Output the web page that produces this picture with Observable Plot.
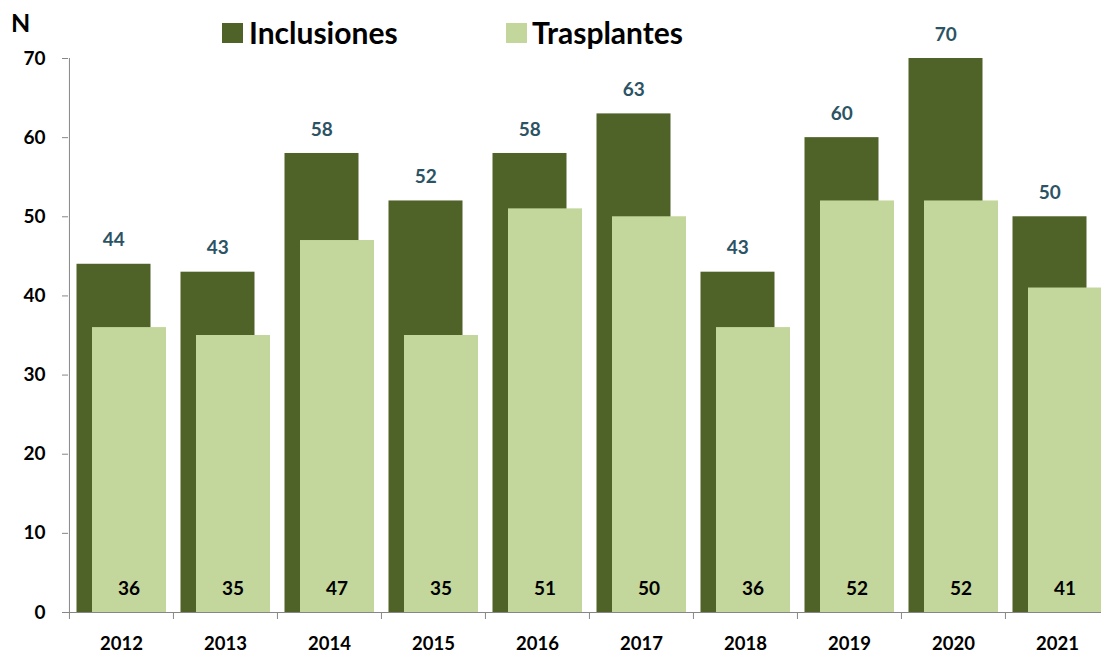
<!DOCTYPE html>
<html>
<head>
<meta charset="utf-8">
<script src="https://cdn.jsdelivr.net/npm/d3@7"></script>
<script src="https://cdn.jsdelivr.net/npm/@observablehq/plot@0.6"></script>
<style>
  html, body { margin: 0; padding: 0; background: #fff; overflow: hidden; }
  #wrap { position: relative; width: 1101px; height: 657px; font-family: Lato, "Open Sans", sans-serif; }
  #wrap svg { position: absolute; left: 0; top: 0; }
  .lab { position: absolute; font-weight: 700; color: #000; white-space: nowrap; line-height: 1; }
  .sw { position: absolute; width: 21px; height: 20px; }
</style>
</head>
<body>
<div id="wrap">
  <div class="lab" style="left:11px; top:10px; font-size:25px;">N</div>
  <div class="sw" style="left:222px; top:23px; background:#4F6228;"></div>
  <div class="lab" style="left:249px; top:17px; font-size:30px;">Inclusiones</div>
  <div class="sw" style="left:506px; top:23px; background:#C3D69B;"></div>
  <div class="lab" style="left:532px; top:17px; font-size:30px;">Trasplantes</div>
</div>
<script>
const years = ["2012","2013","2014","2015","2016","2017","2018","2019","2020","2021"];
const inclusiones = [44, 43, 58, 52, 58, 63, 43, 60, 70, 50];
const trasplantes = [36, 35, 47, 35, 51, 50, 36, 52, 52, 41];
const yTicks = [0, 10, 20, 30, 40, 50, 60, 70];

const data = years.map((y, i) => ({year: y, inc: inclusiones[i], tra: trasplantes[i]}));
const band = (1109 - 68) / years.length;

const chart = Plot.plot({
  width: 1101,
  height: 657,
  marginTop: 58,
  marginBottom: 45,
  marginLeft: 68,
  marginRight: 0,
  style: {fontFamily: "Lato, 'Open Sans', sans-serif", background: "transparent"},
  x: {domain: years, padding: 0, range: [68, 1109], axis: null},
  y: {domain: [0, 70], range: [612, 58], axis: null},
  marks: [
    Plot.barY(data, {x: "year", y: "inc", fill: "#4F6228", insetLeft: 7.5, insetRight: 22.5}),
    Plot.barY(data, {x: "year", y: "tra", fill: "#C3D69B", insetLeft: 23, insetRight: 7}),
    Plot.ruleY([0], {stroke: "#868686", strokeWidth: 1}),
    Plot.ruleX([years[0]], {x: d => d, dx: -band / 2, y1: 0, y2: 70, stroke: "#868686"}),
    Plot.ruleX(data, {x: "year", dx: -band / 2, y1: 0, y2: 0, insetBottom: -7, stroke: "#868686"}),
    Plot.axisY({ticks: yTicks, tickSize: 6, tickPadding: 17, stroke: "#868686", fill: "#000",
                fontSize: 19, fontWeight: 700, label: null}),
    Plot.axisX({tickSize: 0, tickPadding: 24, fill: "#000", fontSize: 18.5, fontWeight: 700, label: null}),
    Plot.text(data, {x: "year", y: "inc", text: d => String(d.inc), dx: -7.7, dy: -24,
                     fill: "#2B5364", fontSize: 19, fontWeight: 700}),
    Plot.text(data, {x: "year", y: () => 0, text: d => String(d.tra), dx: 7.5, dy: -24,
                     fill: "#000", fontSize: 19, fontWeight: 700})
  ]
});
document.getElementById("wrap").prepend(chart);
</script>
</body>
</html>
